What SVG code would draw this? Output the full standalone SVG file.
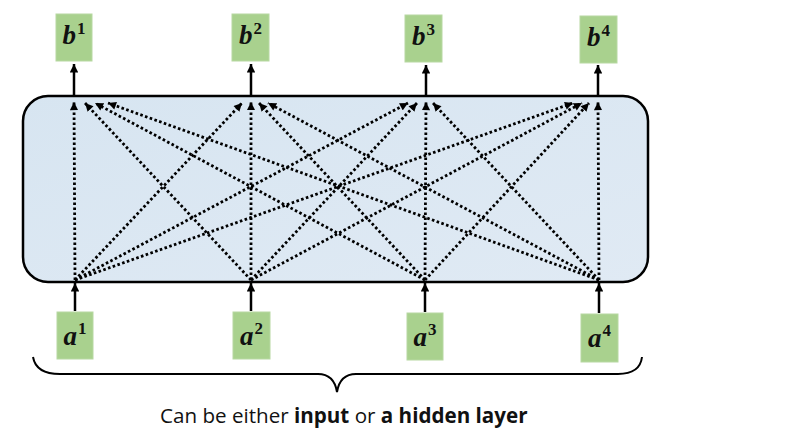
<svg xmlns="http://www.w3.org/2000/svg" width="789" height="448" viewBox="0 0 789 448">
<style>
.box{fill:#a9d18e;stroke:#b7d8a2;stroke-width:1}
.lbl{font-family:"Liberation Serif",serif;font-weight:bold;font-size:27px;fill:#111}
.lbl .v{font-style:italic}
.lbl .s{font-size:17px}
.solid{stroke:#000;stroke-width:2.5;fill:none;marker-end:url(#ah)}
.dot{stroke:#000;stroke-width:2.8;stroke-dasharray:2.6 2.4;fill:none;marker-end:url(#ad)}
.cap{font-family:"Open Sans",sans-serif;font-size:20.6px;fill:#111}
</style>
<defs>
<marker id="ah" viewBox="0 0 10 10" refX="10" refY="5" markerWidth="3.4" markerHeight="3.4" orient="auto" markerUnits="strokeWidth">
<path d="M0,0 L10,5 L0,10 z" fill="#000"/>
</marker>
<marker id="ad" viewBox="0 0 10 10" refX="10" refY="5" markerWidth="3.2" markerHeight="2.9" orient="auto" markerUnits="strokeWidth">
<path d="M0,0 L10,5 L0,10 z" fill="#000"/>
</marker>
<linearGradient id="lay" x1="0" y1="0" x2="1" y2="1">
<stop offset="0" stop-color="#d7e5f1"/>
<stop offset="1" stop-color="#e0eaf4"/>
</linearGradient>
</defs>

<g id="layer">
<rect x="23" y="96" width="625" height="186" rx="25" ry="25" fill="url(#lay)" stroke="#000" stroke-width="2.5"/>
</g>

<g id="connectors">
<line class="solid" x1="74" y1="96" x2="74" y2="64"/>
<line class="solid" x1="251" y1="96" x2="251" y2="64"/>
<line class="solid" x1="426" y1="96" x2="426" y2="65"/>
<line class="solid" x1="598" y1="96" x2="598" y2="65"/>
<line class="solid" x1="75" y1="311" x2="75" y2="283"/>
<line class="solid" x1="251" y1="311" x2="251" y2="283"/>
<line class="solid" x1="425" y1="312" x2="425" y2="283"/>
<line class="solid" x1="599" y1="313" x2="599" y2="283"/>

<line class="dot" x1="75" y1="280" x2="74" y2="102"/>
<line class="dot" x1="251" y1="280" x2="85" y2="103"/>
<line class="dot" x1="425" y1="280" x2="95" y2="103"/>
<line class="dot" x1="599" y1="280" x2="108" y2="103"/>

<line class="dot" x1="75" y1="280" x2="242" y2="103"/>
<line class="dot" x1="251" y1="280" x2="251" y2="102"/>
<line class="dot" x1="425" y1="280" x2="259" y2="103"/>
<line class="dot" x1="599" y1="280" x2="268" y2="103"/>

<line class="dot" x1="75" y1="280" x2="408" y2="103"/>
<line class="dot" x1="251" y1="280" x2="417" y2="103"/>
<line class="dot" x1="425" y1="280" x2="426" y2="102"/>
<line class="dot" x1="599" y1="280" x2="433" y2="103"/>

<line class="dot" x1="75" y1="280" x2="573" y2="103"/>
<line class="dot" x1="251" y1="280" x2="582" y2="103"/>
<line class="dot" x1="425" y1="280" x2="589" y2="103"/>
<line class="dot" x1="599" y1="280" x2="598" y2="102"/>
</g>

<g id="b1"><rect class="box" x="56" y="14" width="36" height="47"/><text class="lbl" x="74" y="44" text-anchor="middle"><tspan class="v">b</tspan><tspan class="s" dx="1" dy="-10">1</tspan></text></g>
<g id="b2"><rect class="box" x="232" y="14" width="37" height="47"/><text class="lbl" x="250.5" y="44" text-anchor="middle"><tspan class="v">b</tspan><tspan class="s" dx="1" dy="-10">2</tspan></text></g>
<g id="b3"><rect class="box" x="405" y="15" width="37" height="47"/><text class="lbl" x="423.5" y="45" text-anchor="middle"><tspan class="v">b</tspan><tspan class="s" dx="1" dy="-10">3</tspan></text></g>
<g id="b4"><rect class="box" x="580" y="16" width="37" height="47"/><text class="lbl" x="598.5" y="46" text-anchor="middle"><tspan class="v">b</tspan><tspan class="s" dx="1" dy="-10">4</tspan></text></g>

<g id="a1"><rect class="box" x="57" y="312" width="36" height="47"/><text class="lbl" x="75" y="345" text-anchor="middle"><tspan class="v">a</tspan><tspan class="s" dx="1" dy="-11">1</tspan></text></g>
<g id="a2"><rect class="box" x="233" y="312" width="37" height="47"/><text class="lbl" x="251.5" y="345" text-anchor="middle"><tspan class="v">a</tspan><tspan class="s" dx="1" dy="-11">2</tspan></text></g>
<g id="a3"><rect class="box" x="407" y="313" width="36" height="47"/><text class="lbl" x="425" y="346" text-anchor="middle"><tspan class="v">a</tspan><tspan class="s" dx="1" dy="-11">3</tspan></text></g>
<g id="a4"><rect class="box" x="581" y="314" width="37" height="48"/><text class="lbl" x="599.5" y="347" text-anchor="middle"><tspan class="v">a</tspan><tspan class="s" dx="1" dy="-11">4</tspan></text></g>

<g id="brace">
<path d="M33,357 Q36,374 60,374 L318,374 Q334,374 337,392 Q340,374 356,374 L618,374 Q640,374 642,357" fill="none" stroke="#000" stroke-width="2"/>
<text class="cap" x="160" y="423">Can be either <tspan font-weight="bold">input</tspan> or <tspan font-weight="bold">a hidden layer</tspan></text>
</g>
</svg>
